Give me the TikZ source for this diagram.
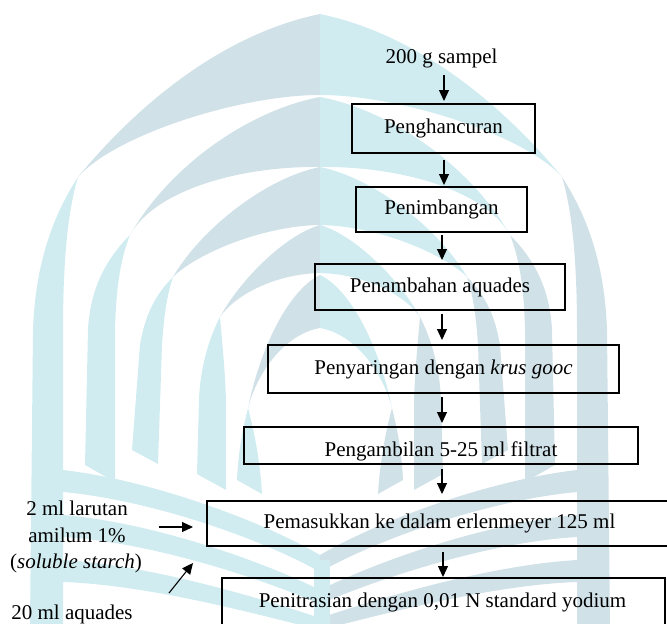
\documentclass[tikz,border=0pt]{standalone}
\usepackage{fontspec}
\setmainfont{Liberation Serif}
\usetikzlibrary{arrows.meta}
\definecolor{wmgrey}{RGB}{209,225,232}
\definecolor{wmcyan}{RGB}{208,236,240}

% one half of the arch watermark: #1 = crescent colour, #2 = colour of the
% descending bands and of the book pages
\newcommand\archhalf[2]{%
  \fill[#1] (320,14) .. controls (223,34) and (138,104) .. (78,177)
            .. controls (115,135) and (240,95) .. (320,95) -- cycle;
  \fill[#1] (320,97) .. controls (250,110) and (170,165) .. (130,235)
            .. controls (155,190) and (240,166) .. (320,167) -- cycle;
  \fill[#1] (320,167) .. controls (265,178) and (200,230) .. (173,277)
            .. controls (195,255) and (260,226) .. (320,225) -- cycle;
  \fill[#1] (320,225) .. controls (285,235) and (240,280) .. (220,317)
            .. controls (235,295) and (275,274) .. (320,273) -- cycle;
  \fill[#1] (320,275) .. controls (292,288) and (262,340) .. (248,408)
            .. controls (258,370) and (286,334) .. (320,328) -- cycle;
  % descending bands
  \fill[#2] (78,177) .. controls (50,220) and (35,270) .. (33,330) -- (30,624)
            -- (63,624) -- (63,330) .. controls (63,260) and (68,210) .. (78,177) -- cycle;
  \fill[#2] (130,235) .. controls (105,260) and (90,290) .. (88,330) -- (85,465)
            -- (115,482) -- (115,330) .. controls (116,290) and (120,260) .. (130,235) -- cycle;
  \fill[#2] (173,277) .. controls (155,295) and (145,315) .. (140,345) -- (132,450)
            -- (158,464) -- (162,345) .. controls (164,315) and (167,295) .. (173,277) -- cycle;
  \fill[#2] (220,317) .. controls (208,340) and (200,370) .. (199,400) -- (197,474)
            -- (226,490) -- (226,400) .. controls (225,370) and (222,340) .. (220,317) -- cycle;
  \fill[#2] (248,408) .. controls (240,440) and (238,460) .. (237,480)
            -- (262,494) .. controls (260,460) and (254,430) .. (248,408) -- cycle;
  % book pages
  \fill[#2] (63,470) .. controls (150,480) and (260,520) .. (320,555) -- (320,572)
            .. controls (260,538) and (150,500) .. (63,492) -- cycle;
  \fill[#2] (63,515) .. controls (150,522) and (260,560) .. (320,590) -- (320,604)
            .. controls (260,578) and (150,542) .. (63,537) -- cycle;
  \fill[#2] (63,560) .. controls (150,565) and (260,598) .. (320,618) -- (320,630)
            .. controls (260,615) and (150,585) .. (63,582) -- cycle;
}

\begin{document}
\begin{tikzpicture}[x=1pt, y=-1pt,
  font=\fontsize{21}{25}\selectfont,
  every node/.style={inner sep=0pt, outer sep=0pt},
  box/.style={draw, line width=1.5pt},
  arr/.style={-{Triangle[width=10pt,length=11pt]}, line width=1.1pt}]
  \useasboundingbox (0,0) rectangle (667,624);
  \clip (0,0) rectangle (667,624);

  % watermark
  \archhalf{wmgrey}{wmcyan}
  \begin{scope}[shift={(640,0)}, xscale=-1]
    \archhalf{wmcyan}{wmgrey}
  \end{scope}
  \fill[wmcyan] (314,560) rectangle (330,624);

  % arrow columns
  \coordinate (cA) at (444,0);
  \coordinate (cB) at (442,0);
  \coordinate (cC) at (443,0);

  % flow
  \node[anchor=base] (s0) at (441.5,63) {200 g sampel};
  \node[box, minimum width=183pt, minimum height=49pt] (b1) at (443.5,128.5) {Penghancuran};
  \node[box, minimum width=171pt, minimum height=45pt] (b2) at (441.5,209.5) {Penimbangan};
  \node[box, minimum width=250pt, minimum height=46pt] (b3) at (440,287) {Penambahan aquades};
  \node[box, minimum width=351pt, minimum height=48pt] (b4) at (443.5,369) {Penyaringan dengan \textit{krus gooc}};
  \node[box, minimum width=394pt, minimum height=37pt] (b5) at (441,445.5) {};
  \begin{scope}
    \clip (b5.south west) ++(1,-2) rectangle (b5.north east);
    \node[anchor=base] (t5) at (441,456) {Pengambilan 5-25 ml filtrat};
  \end{scope}
  \node[box, minimum width=465pt, minimum height=45pt] (b6) at (439.5,523.5) {Pemasukkan ke dalam erlenmeyer 125 ml};
  \node[box, minimum width=443pt, minimum height=62pt, anchor=north] (b7) at (443.5,578) {};
  \node[anchor=base] (t7) at (442.5,607) {Penitrasian dengan 0,01 N standard yodium};

  \draw[arr, shorten <=7.4pt, shorten >=3pt] (s0.south -| cA) -- (b1.north -| cA);
  \draw[arr, shorten <=7pt, shorten >=2pt] (b1.south -| cA) -- (b2.north -| cA);
  \draw[arr, shorten <=3pt, shorten >=4pt] (b2.south -| cB) -- (b3.north -| cB);
  \draw[arr, shorten <=4pt, shorten >=5pt] (b3.south -| cB) -- (b4.north -| cB);
  \draw[arr, shorten <=4pt, shorten >=4pt] (b4.south -| cB) -- (b5.north -| cB);
  \draw[arr, shorten <=5pt, shorten >=7pt] (b5.south -| cB) -- (b6.north -| cB);
  \draw[arr, shorten <=6pt, shorten >=1pt] (b6.south -| cC) -- (b7.north -| cC);

  % side inputs
  \node[anchor=base] (l1) at (77,515) {2 ml larutan};
  \node[anchor=base] (l2) at (77,542) {amilum 1\%};
  \node[anchor=base] (l3) at (76,568) {(\textit{soluble starch})};
  \node[anchor=base] (l4) at (72,619) {20 ml aquades};
  \coordinate (h0) at (159,527);
  \draw[arr, shorten >=14pt] (h0) -- (h0 -| b6.west);
  \coordinate (d0) at (169,593);
  \coordinate (d1) at (193,563);
  \draw[arr] (d0) -- (d1);
\end{tikzpicture}
\end{document}
